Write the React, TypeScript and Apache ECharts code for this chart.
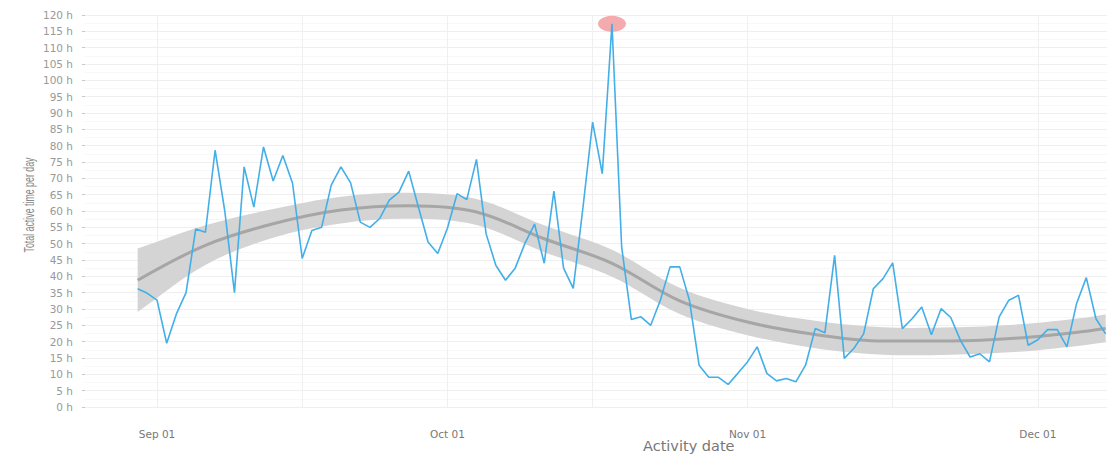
import React, { useEffect, useRef } from "react";
import * as echarts from "echarts";

// ---- data ----
const startDate = "2019-08-30";
const dailyHours = [
  36.2, 34.8,
  32.7, 19.5, 28.5, 35.0, 54.5, 53.5, 78.6, 60.0, 35.0, 73.5,
  61.2, 79.6, 69.2, 77.0, 68.5, 45.5, 54.0, 55.0, 67.9, 73.5,
  68.6, 56.6, 55.0, 57.7, 63.3, 65.8, 72.2, 61.2, 50.5, 47.0,
  54.7, 65.3, 63.5, 75.8, 53.0, 43.4, 38.8, 42.5, 50.0, 56.0,
  44.0, 66.1, 42.5, 36.3, 61.0, 87.2, 71.4, 117.3, 49.0, 26.8,
  27.6, 25.0, 32.7, 42.9, 42.9, 32.7, 12.8, 9.1, 9.1, 6.9,
  10.3,
  13.8, 18.4, 10.3, 8.0, 8.7, 7.7, 12.8, 24.0, 22.7, 46.4,
  14.9, 18.0, 22.4, 36.2, 39.3, 44.1, 24.0, 27.0, 30.6, 22.1,
  30.1, 27.4, 20.4, 15.3, 16.3, 13.8, 27.6, 32.7, 34.2, 18.9,
  20.6, 23.7, 23.7, 18.4, 31.7, 39.6, 27.0, 22.4,
];

const trendDates = [
  "2019-08-30", "2019-09-06", "2019-09-13", "2019-09-20", "2019-09-27",
  "2019-10-04", "2019-10-11", "2019-10-18", "2019-10-25", "2019-11-01",
  "2019-11-08", "2019-11-15", "2019-11-22", "2019-11-29", "2019-12-06",
  "2019-12-08",
];
const trendCenter = [38.8, 49.5, 56.1, 60.3, 61.6, 59.7, 51.5, 44.0, 32.5, 26.0, 22.2, 20.2, 20.2, 21.1, 23.2, 24.0];
const trendLower = [29.1, 43.5, 51.8, 56.2, 57.6, 55.7, 47.4, 39.9, 28.5, 22.0, 18.0, 16.0, 16.0, 16.9, 19.0, 19.8];
const trendUpper = [48.5, 55.6, 60.6, 64.4, 65.6, 63.7, 55.6, 48.1, 36.5, 30.0, 26.4, 24.4, 24.4, 25.3, 27.4, 28.4];

const monthLabelDates = ["2019-09-01", "2019-10-01", "2019-11-01", "2019-12-01"];
const gridLineDates = ["2019-09-01", "2019-09-16", "2019-10-01", "2019-10-16", "2019-11-01", "2019-11-16", "2019-12-01"];
const monthNames = ["Jan", "Feb", "Mar", "Apr", "May", "Jun", "Jul", "Aug", "Sep", "Oct", "Nov", "Dec"];

const yAxisTitle = "Total active time per day";
const xAxisTitle = "Activity date";

const DAY = 86400000;
const ts = (d: string) => Date.parse(d + "T00:00:00Z");

export default function App() {
  const ref = useRef<HTMLDivElement>(null);

  useEffect(() => {
    if (!ref.current) return;
    const chart = echarts.init(ref.current, null, { renderer: "svg" });

    const t0 = ts(startDate);
    const lineData = dailyHours.map((v, i) => [t0 + i * DAY, v]);
    let peakIdx = 0;
    dailyHours.forEach((v, i) => { if (v > dailyHours[peakIdx]) peakIdx = i; });

    const centerData = trendDates.map((d, i) => [ts(d), trendCenter[i]]);
    const sep1 = ts("2019-09-01");

    const renderBand = (params: any, api: any) => {
      if (params.dataIndex !== 0) return null;
      const up = trendDates.map((d, i) => api.coord([ts(d), trendUpper[i]]));
      const lo = trendDates.map((d, i) => api.coord([ts(d), trendLower[i]]));
      const n = up.length;
      const pts: number[][] = [];
      pts.push(up[0]);
      for (let i = 0; i < n; i++) pts.push(up[i]);
      pts.push(up[n - 1]);
      pts.push(lo[n - 1]);
      for (let i = n - 1; i >= 0; i--) pts.push(lo[i]);
      pts.push(lo[0]);
      return {
        type: "polygon",
        shape: { points: pts, smooth: 0.35 },
        style: { fill: "#d4d4d4" },
        silent: true,
      };
    };

    chart.setOption({
      animation: false,
      backgroundColor: "#ffffff",
      grid: { left: 85, right: 0, top: 15, bottom: 47, containLabel: false },
      xAxis: {
        type: "value",
        min: sep1 - 7.44 * DAY,
        max: sep1 + 98.14 * DAY,
        scale: true,
        axisLine: { show: false },
        axisTick: { show: false, customValues: gridLineDates.map(ts) },
        axisLabel: {
          customValues: monthLabelDates.map(ts),
          formatter: (val: number) => {
            const d = new Date(val);
            const dd = String(d.getUTCDate()).padStart(2, "0");
            return monthNames[d.getUTCMonth()] + " " + dd;
          },
          color: "#777",
          fontFamily: "DejaVu Sans",
          fontSize: 10.5,
          margin: 21,
        },
        splitLine: { show: true, lineStyle: { color: "#f0f0f0", width: 1 } },
      },
      yAxis: {
        type: "value",
        min: 0,
        max: 120,
        interval: 5,
        axisLine: { show: false },
        axisTick: { show: true, length: 3, lineStyle: { color: "#c8c8c8" } },
        axisLabel: {
          formatter: (v: number) => v + " h",
          color: "#999",
          fontFamily: "DejaVu Sans",
          fontSize: 10.5,
          margin: 12,
        },
        splitLine: { show: true, lineStyle: { color: "#efefef", width: 1 } },
        minorTick: { show: false, splitNumber: 2 },
        minorSplitLine: { show: true, lineStyle: { color: "#f7f7f7", width: 1 } },
      },
      series: [
        {
          name: "band",
          type: "custom",
          renderItem: renderBand,
          data: [centerData[0]],
          clip: true,
          silent: true,
          z: 1,
        },
        {
          name: "trend",
          type: "line",
          data: centerData,
          smooth: 0.35,
          symbol: "none",
          lineStyle: { color: "#a6a6a6", width: 3 },
          silent: true,
          z: 2,
        },
        {
          name: "peak",
          type: "scatter",
          data: [lineData[peakIdx]],
          symbol: "circle",
          symbolSize: [28, 16],
          itemStyle: { color: "#f3a2a5", opacity: 0.9 },
          silent: true,
          z: 3,
        },
        {
          name: "hours",
          type: "line",
          data: lineData,
          symbol: "none",
          lineStyle: { color: "#42afe8", width: 1.6 },
          z: 4,
        },
      ],
      graphic: [
        {
          type: "text",
          x: 29,
          y: 205,
          rotation: Math.PI / 2,
          scaleX: 0.63,
          style: {
            text: yAxisTitle,
            fill: "#888",
            font: "14px Liberation Sans",
            align: "center",
            verticalAlign: "middle",
          },
        },
        {
          type: "text",
          left: 643,
          top: 438,
          style: {
            text: xAxisTitle,
            fill: "#777",
            font: "14.5px DejaVu Sans",
          },
        },
      ],
    });

    return () => chart.dispose();
  }, []);

  return (
    <div
      ref={ref}
      style={{ position: "fixed", left: 0, top: 0, width: 1107, height: 454, background: "#fff" }}
    />
  );
}
